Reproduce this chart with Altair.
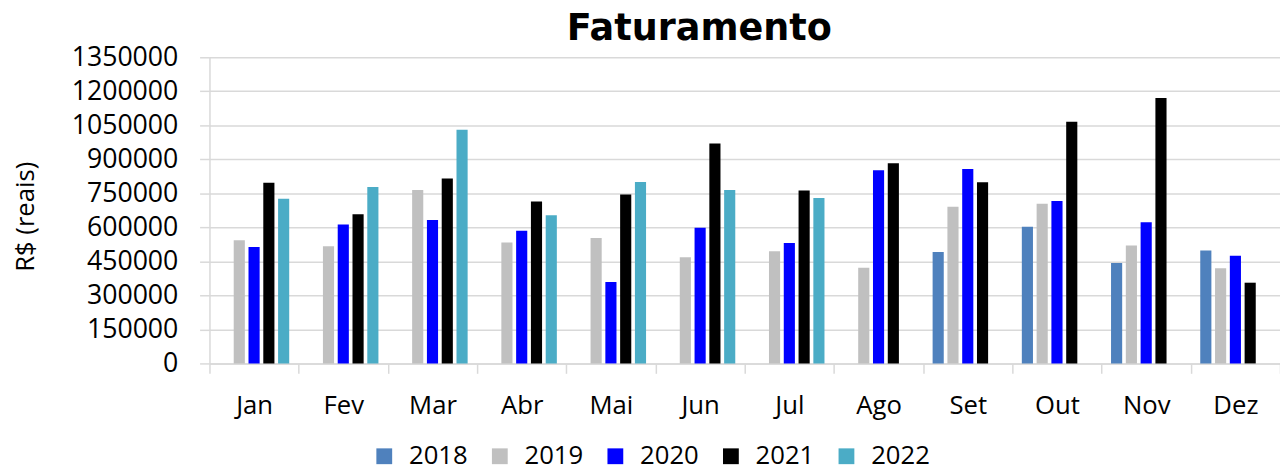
import altair as alt
import pandas as pd

months = ["Jan", "Fev", "Mar", "Abr", "Mai", "Jun", "Jul", "Ago", "Set", "Out", "Nov", "Dez"]
years = ["2018", "2019", "2020", "2021", "2022"]
colors = ["#4F81BD", "#C0C0C0", "#0000FF", "#000000", "#4BACC6"]

v2018 = [None, None, None, None, None, None, None, None, 491000, 603000, 443000, 498000]
v2019 = [543000, 517000, 765000, 533000, 553000, 468000, 495000, 422000, 691000, 704000, 520000, 420000]
v2020 = [513000, 613000, 633000, 585000, 359000, 598000, 531000, 852000, 857000, 716000, 623000, 475000]
v2021 = [797000, 658000, 816000, 714000, 745000, 970000, 762000, 883000, 799000, 1066000, 1170000, 356000]
v2022 = [726000, 778000, 1030000, 653000, 800000, 765000, 730000, None, None, None, None, None]

y_ticks = [0, 150000, 300000, 450000, 600000, 750000, 900000, 1050000, 1200000, 1350000]

series = {"2018": v2018, "2019": v2019, "2020": v2020, "2021": v2021, "2022": v2022}
rows = []
for yr, vals in series.items():
    for m, v in zip(months, vals):
        if v is not None:
            rows.append({"month": m, "year": yr, "value": v})
df = pd.DataFrame(rows)

FONT = "Open Sans"
GRID = "#d9d9d9"

chart = (
    alt.Chart(df)
    .mark_bar()
    .encode(
        x=alt.X(
            "month:N",
            sort=months,
            scale=alt.Scale(paddingInner=0, paddingOuter=0),
            axis=alt.Axis(
                title=None,
                tickBand="extent",
                labelAngle=0,
                labelFont=FONT,
                labelFontSize=26,
                labelColor="black",
                tickSize=10,
                tickColor=GRID,
                tickWidth=1.5,
                domainColor=GRID,
                domainWidth=1.5,
                labelPadding=20,
                grid=False,
            ),
        ),
        xOffset=alt.XOffset(
            "year:N",
            sort=years,
            scale=alt.Scale(domain=years, paddingInner=0.247, paddingOuter=0.64),
        ),
        y=alt.Y(
            "value:Q",
            scale=alt.Scale(domain=[0, 1350000], nice=False),
            axis=alt.Axis(
                title="R$ (reais)",
                values=y_ticks,
                format="d",
                labelFont=FONT,
                labelFontSize=27,
                labelColor="black",
                labelPadding=22,
                tickSize=10,
                tickColor=GRID,
                tickWidth=1.5,
                domainColor=GRID,
                domainWidth=1.5,
                gridColor=GRID,
                gridWidth=1.5,
                titleFont=FONT,
                titleFontSize=26,
                titleFontWeight="normal",
                titleColor="black",
                titleAngle=270,
                titleX=-186,
                titleY=161,
                titleAlign="center",
                titleBaseline="middle",
            ),
        ),
        color=alt.Color(
            "year:N",
            scale=alt.Scale(domain=years, range=colors),
            legend=alt.Legend(
                title=None,
                orient="none",
                legendX=164,
                legendY=391,
                direction="horizontal",
                columns=5,
                symbolType="square",
                symbolSize=256,
                symbolStrokeWidth=0,
                symbolOpacity=1,
                labelFont=FONT,
                labelFontSize=26,
                labelColor="black",
                labelOffset=12,
                columnPadding=19,
            ),
        ),
    )
    .properties(
        width=1084,
        height=310,
        title=alt.TitleParams(
            "Faturamento",
            font="DejaVu Sans",
            fontSize=37,
            fontWeight="bold",
            color="black",
            anchor="middle",
            frame="group",
            dx=-46,
            dy=14,
            offset=10,
        ),
        autosize=alt.AutoSizeParams(type="none"),
        padding={"left": 204, "top": 47, "right": 0, "bottom": 104},
    )
    .configure_view(stroke=None)
    .configure_bar(opacity=1)
)

chart.save("out.html", embed_options={"renderer": "svg", "actions": False})
